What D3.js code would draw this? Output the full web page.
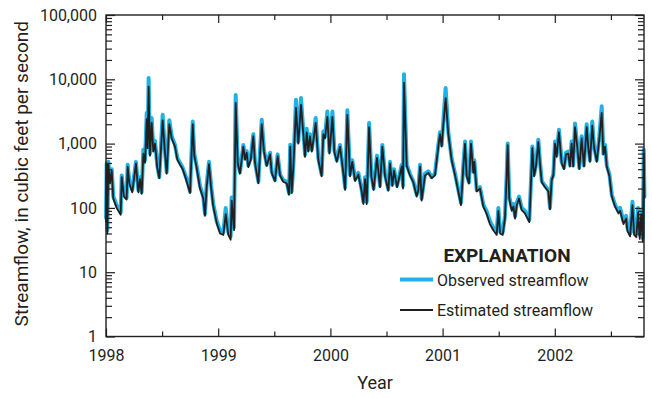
<!DOCTYPE html>
<html>
<head>
<meta charset="utf-8">
<script src="https://cdn.jsdelivr.net/npm/d3@7"></script>
<style>
  body { margin: 0; background: #fff; }
  svg text { font-family: "Liberation Sans Narrow", "Roboto", sans-serif; fill: #231f20; }
</style>
</head>
<body>
<svg id="chart" width="652" height="398"></svg>
<script>
const MARGIN = { top: 15, right: 8, bottom: 61.5, left: 106 };
const WIDTH = 652 - MARGIN.left - MARGIN.right;
const HEIGHT = 398 - MARGIN.top - MARGIN.bottom;

const BLUE = '#21b1e6';
const INK = '#231f20';

// decimal year of each point
const years = [
  1998.000, 1998.006, 1998.012, 1998.021, 1998.036, 1998.051, 1998.065, 1998.095, 1998.131, 1998.140,
  1998.160, 1998.184, 1998.193, 1998.208, 1998.234, 1998.267, 1998.288, 1998.303, 1998.318, 1998.333,
  1998.348, 1998.363, 1998.371, 1998.380, 1998.392, 1998.407, 1998.422, 1998.437, 1998.457, 1998.475,
  1998.505, 1998.526, 1998.541, 1998.564, 1998.586, 1998.615, 1998.636, 1998.660, 1998.684, 1998.713,
  1998.734, 1998.749, 1998.773, 1998.787, 1998.808, 1998.838, 1998.867, 1998.882, 1998.897, 1998.918,
  1998.936, 1998.956, 1998.987, 1999.016, 1999.046, 1999.067, 1999.090, 1999.111, 1999.120, 1999.141,
  1999.156, 1999.174, 1999.194, 1999.224, 1999.239, 1999.254, 1999.268, 1999.290, 1999.313, 1999.328,
  1999.358, 1999.388, 1999.408, 1999.432, 1999.462, 1999.477, 1999.506, 1999.530, 1999.551, 1999.580,
  1999.611, 1999.631, 1999.642, 1999.655, 1999.670, 1999.693, 1999.714, 1999.738, 1999.759, 1999.774,
  1999.789, 1999.803, 1999.818, 1999.834, 1999.848, 1999.869, 1999.892, 1999.922, 1999.937, 1999.952,
  1999.973, 1999.991, 2000.018, 2000.035, 2000.057, 2000.086, 2000.115, 2000.131, 2000.151, 2000.175,
  2000.195, 2000.220, 2000.249, 2000.279, 2000.294, 2000.309, 2000.324, 2000.345, 2000.365, 2000.385,
  2000.415, 2000.442, 2000.463, 2000.487, 2000.516, 2000.531, 2000.552, 2000.567, 2000.594, 2000.636,
  2000.647, 2000.656, 2000.680, 2000.709, 2000.739, 2000.769, 2000.784, 2000.799, 2000.813, 2000.843,
  2000.873, 2000.903, 2000.932, 2000.962, 2000.977, 2000.992, 2001.006, 2001.027, 2001.051, 2001.081,
  2001.111, 2001.140, 2001.164, 2001.185, 2001.200, 2001.215, 2001.235, 2001.253, 2001.274, 2001.283,
  2001.304, 2001.333, 2001.363, 2001.393, 2001.422, 2001.452, 2001.482, 2001.497, 2001.512, 2001.536,
  2001.556, 2001.571, 2001.580, 2001.594, 2001.616, 2001.631, 2001.646, 2001.661, 2001.681, 2001.705,
  2001.734, 2001.773, 2001.785, 2001.800, 2001.815, 2001.832, 2001.853, 2001.868, 2001.884, 2001.913,
  2001.943, 2001.957, 2001.972, 2001.987, 2002.002, 2002.016, 2002.037, 2002.061, 2002.082, 2002.100,
  2002.120, 2002.135, 2002.150, 2002.164, 2002.180, 2002.200, 2002.218, 2002.239, 2002.260, 2002.284,
  2002.298, 2002.313, 2002.334, 2002.349, 2002.374, 2002.397, 2002.418, 2002.433, 2002.448, 2002.463,
  2002.487, 2002.508, 2002.537, 2002.567, 2002.582, 2002.612, 2002.636, 2002.647, 2002.671, 2002.692,
  2002.707, 2002.727, 2002.742, 2002.757, 2002.770, 2002.784, 2002.793, 2002.799,
];

// observed streamflow, cubic feet per second
const observed = [
  70, 500, 45, 520, 260, 400, 150, 110, 85, 320,
  160, 145, 470, 260, 190, 520, 190, 300, 175, 800,
  550, 3000, 900, 10500, 700, 2500, 800, 1100, 450, 300,
  2800, 750, 360, 2300, 1300, 950, 600, 500, 420, 300,
  230, 180, 2200, 700, 450, 220, 150, 80, 230, 520,
  230, 115, 62, 45, 42, 100, 42, 36, 145, 50,
  5700, 520, 360, 950, 600, 760, 460, 600, 1400, 520,
  255, 2350, 800, 470, 720, 370, 270, 680, 330, 270,
  255, 170, 960, 180, 460, 4800, 1070, 5100, 1540, 670,
  1700, 800, 1400, 800, 1200, 2500, 600, 330, 1540, 1300,
  3150, 750, 3150, 800, 550, 950, 370, 205, 3300, 330,
  550, 280, 350, 190, 125, 300, 125, 2100, 330, 200,
  650, 220, 950, 330, 195, 520, 230, 400, 220, 470,
  220, 12000, 470, 340, 260, 160, 200, 470, 140, 340,
  370, 300, 340, 950, 1500, 950, 2200, 7300, 1500, 580,
  340, 190, 120, 470, 1080, 330, 250, 1080, 370, 550,
  190, 210, 112, 88, 62, 49, 42, 100, 44, 42,
  75, 330, 1000, 150, 100, 115, 74, 120, 150, 100,
  90, 65, 200, 900, 330, 460, 1150, 520, 260, 220,
  190, 100, 280, 330, 1080, 650, 1640, 520, 420, 720,
  750, 460, 1080, 460, 2050, 950, 420, 1300, 460, 2000,
  950, 550, 2200, 950, 550, 1300, 3800, 700, 950, 460,
  330, 160, 112, 90, 100, 62, 75, 49, 40, 125,
  42, 40, 100, 38, 90, 34, 800, 150,
];

// estimated streamflow, cubic feet per second
const estimated = [
  60, 480, 40, 480, 240, 380, 140, 100, 78, 300,
  150, 135, 440, 240, 175, 490, 175, 280, 165, 700,
  500, 2400, 850, 7700, 650, 2100, 750, 1000, 420, 290,
  2300, 700, 340, 2000, 1200, 900, 560, 470, 400, 280,
  210, 170, 2000, 650, 420, 200, 140, 75, 210, 480,
  210, 105, 58, 40, 38, 80, 38, 32, 130, 45,
  4300, 500, 340, 900, 560, 720, 430, 560, 1300, 500,
  240, 2000, 750, 450, 680, 350, 260, 640, 320, 255,
  240, 160, 900, 170, 430, 3600, 1000, 4000, 1400, 620,
  1500, 750, 1300, 750, 1100, 2100, 560, 310, 1400, 1200,
  2600, 700, 2600, 750, 520, 900, 350, 190, 2800, 310,
  520, 260, 330, 180, 115, 280, 115, 1800, 310, 190,
  600, 210, 900, 310, 185, 490, 220, 380, 210, 440,
  200, 8900, 450, 320, 250, 150, 190, 440, 130, 320,
  350, 290, 320, 900, 1400, 900, 1900, 5100, 1400, 550,
  320, 180, 110, 440, 1000, 310, 240, 1000, 350, 520,
  180, 200, 105, 80, 56, 45, 38, 90, 40, 38,
  70, 310, 950, 140, 90, 105, 68, 110, 140, 92,
  82, 60, 190, 850, 310, 440, 1050, 490, 250, 210,
  180, 95, 270, 320, 1000, 620, 1500, 500, 400, 680,
  700, 440, 1000, 440, 1800, 900, 400, 1200, 440, 1800,
  900, 520, 1900, 900, 520, 1200, 3000, 680, 900, 440,
  310, 150, 105, 82, 90, 56, 68, 44, 36, 110,
  38, 35, 85, 33, 80, 30, 700, 140,
];

const yearTicks = [1998, 1999, 2000, 2001, 2002];
const halfYearTicks = [1998.5, 1999.5, 2000.5, 2001.5, 2002.5];
const flowTicks = [1, 10, 100, 1000, 10000, 100000];
const flowMinorTicks = flowTicks.slice(0, -1)
  .flatMap(d => [2, 3, 4, 5, 6, 7, 8, 9].map(m => d * m));

const X_END = 2002.795;

const svg = d3.select('#chart');
const chart = svg.append('g')
  .attr('transform', `translate(${MARGIN.left},${MARGIN.top})`);

const x = d3.scaleLinear().domain([1998, X_END]).range([0, WIDTH]);
const y = d3.scaleLog().domain([1, 100000]).range([HEIGHT, 0]);

const rows = years.map((yr, i) => ({ yr, obs: observed[i], est: estimated[i] }));

// lines
chart.append('path')
  .datum(rows)
  .attr('fill', 'none')
  .attr('stroke', BLUE)
  .attr('stroke-width', 4)
  .attr('stroke-linejoin', 'round')
  .attr('stroke-linecap', 'round')
  .attr('d', d3.line().x(d => x(d.yr)).y(d => y(d.obs)));

chart.append('path')
  .datum(rows)
  .attr('fill', 'none')
  .attr('stroke', INK)
  .attr('stroke-width', 1.8)
  .attr('stroke-linejoin', 'round')
  .attr('d', d3.line().x(d => x(d.yr)).y(d => y(d.est)));

// axes (ticks point inward on all four sides)
function styleAxis(g) {
  g.select('.domain').remove();
  g.selectAll('line').attr('stroke', INK).attr('stroke-width', 1.2);
  g.selectAll('text')
    .attr('font-family', '"Liberation Sans Narrow", Roboto, sans-serif')
    .attr('font-size', 16)
    .attr('fill', INK);
}

chart.append('g')
  .call(d3.axisLeft(y).tickValues(flowTicks).tickSize(-9).tickPadding(9)
    .tickFormat(d3.format(',')))
  .call(styleAxis);
chart.append('g')
  .call(d3.axisLeft(y).tickValues(flowMinorTicks).tickSize(-6).tickFormat(''))
  .call(styleAxis);
chart.append('g')
  .attr('transform', `translate(${WIDTH},0)`)
  .call(d3.axisRight(y).tickValues(flowTicks).tickSize(-9).tickFormat(''))
  .call(styleAxis);
chart.append('g')
  .attr('transform', `translate(${WIDTH},0)`)
  .call(d3.axisRight(y).tickValues(flowMinorTicks).tickSize(-6).tickFormat(''))
  .call(styleAxis);

chart.append('g')
  .attr('transform', `translate(0,${HEIGHT})`)
  .call(d3.axisBottom(x).tickValues(yearTicks).tickSize(-8).tickPadding(13)
    .tickFormat(d3.format('d')))
  .call(styleAxis);
chart.append('g')
  .attr('transform', `translate(0,${HEIGHT})`)
  .call(d3.axisBottom(x).tickValues(halfYearTicks).tickSize(-5).tickFormat(''))
  .call(styleAxis);
chart.append('g')
  .call(d3.axisTop(x).tickValues(yearTicks).tickSize(-8).tickFormat(''))
  .call(styleAxis);
chart.append('g')
  .call(d3.axisTop(x).tickValues(halfYearTicks).tickSize(-5).tickFormat(''))
  .call(styleAxis);

chart.append('rect')
  .attr('width', WIDTH)
  .attr('height', HEIGHT)
  .attr('fill', 'none')
  .attr('stroke', INK)
  .attr('stroke-width', 1.4);

// axis titles
svg.append('text')
  .attr('transform', `translate(28,${MARGIN.top + HEIGHT / 2 - 2}) rotate(-90)`)
  .attr('text-anchor', 'middle')
  .attr('font-size', 19)
  .text('Streamflow, in cubic feet per second');

svg.append('text')
  .attr('x', MARGIN.left + WIDTH / 2)
  .attr('y', 389)
  .attr('text-anchor', 'middle')
  .attr('font-size', 18)
  .text('Year');

// explanation
const legend = svg.append('g');
legend.append('text')
  .attr('x', 507)
  .attr('y', 262)
  .attr('text-anchor', 'middle')
  .attr('font-size', 19)
  .attr('font-weight', 'bold')
  .text('EXPLANATION');

const legendItems = [
  { label: 'Observed streamflow', color: BLUE, width: 4, y: 279.5 },
  { label: 'Estimated streamflow', color: INK, width: 1.8, y: 310 },
];
legendItems.forEach(item => {
  legend.append('line')
    .attr('x1', 400).attr('x2', 433)
    .attr('y1', item.y).attr('y2', item.y)
    .attr('stroke', item.color)
    .attr('stroke-width', item.width);
  legend.append('text')
    .attr('x', 437)
    .attr('y', item.y + 6)
    .attr('font-size', 16)
    .text(item.label);
});
</script>
</body>
</html>
